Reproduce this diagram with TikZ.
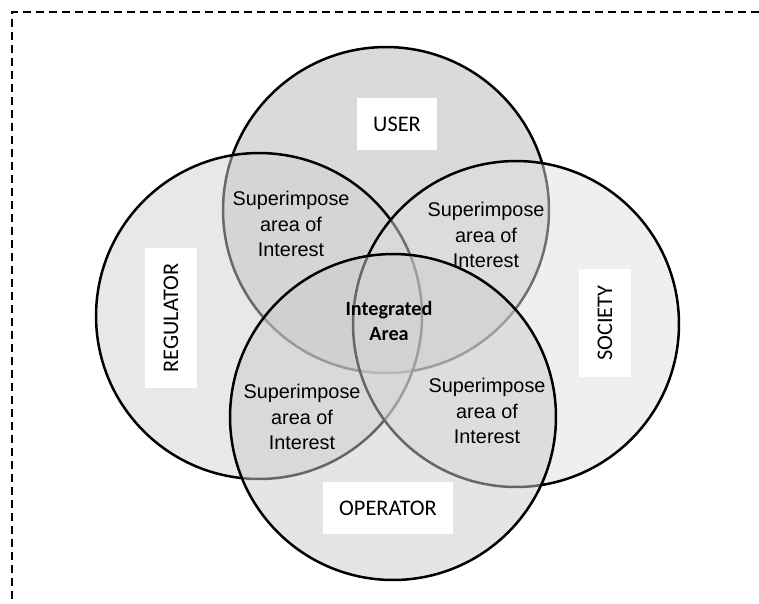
\documentclass[tikz,border=0pt]{standalone}
\usepackage{fontspec}
\setmainfont{Liberation Sans}
\newfontfamily\labelfont{Carlito}
\usetikzlibrary{positioning}

\definecolor{usergray}{gray}{0.71}
\definecolor{reggray}{gray}{0.82}
\definecolor{socgray}{gray}{0.875}
\definecolor{opgray}{gray}{0.80}

\tikzset{
  set/.style={circle,draw=black,line width=0.05cm,minimum size=6.52cm,fill opacity=0.5},
  tag/.style={fill=white,font=\labelfont\fontsize{12.7}{15}\selectfont,inner xsep=0.32cm,minimum height=1.04cm},
  note/.style={align=center,font=\fontsize{11.3}{14.5}\selectfont},
}

\begin{document}
\begin{tikzpicture}[x=0.02cm,y=-0.02cm]
  \useasboundingbox (0,0) rectangle (759,603);
  \coordinate (corner) at (12,12);
  \coordinate (top end) at (759,12);
  \coordinate (left end) at (12,603);
  \draw[line width=0.04cm,dash pattern=on 0.16cm off 0.1cm] (top end) -- (corner) -- (left end);

  % the four sets, back to front
  \node (user) [set,fill=usergray] at (386,210) {};
  \node (reg)  [set,fill=reggray]  at (259,316) {};
  \node (soc)  [set,fill=socgray]  at (516,324) {};
  \node (op)   [set,fill=opgray]   at (393,417) {};

  % names
  \node (user label) [tag]           at (397,124) {USER};
  \node (reg label)  [tag,rotate=90] at (171,318) {REGULATOR};
  \node (soc label)  [tag,rotate=90] at (605,323) {SOCIETY};
  \node (op label)   [tag]           at (388,508) {OPERATOR};

  % overlaps
  \node (ul) [note] at (291,224) {Superimpose\\area of\\Interest};
  \node (ur) [note] at (486,235) {Superimpose\\area of\\Interest};
  \node (ll) [note] at (302,417) {Superimpose\\area of\\Interest};
  \node (lr) [note] at (487,411) {Superimpose\\area of\\Interest};
  \node (mid) [align=center,font=\labelfont\bfseries\fontsize{11.5}{13.7}\selectfont] at (389,321) {Integrated\\Area};
\end{tikzpicture}
\end{document}
